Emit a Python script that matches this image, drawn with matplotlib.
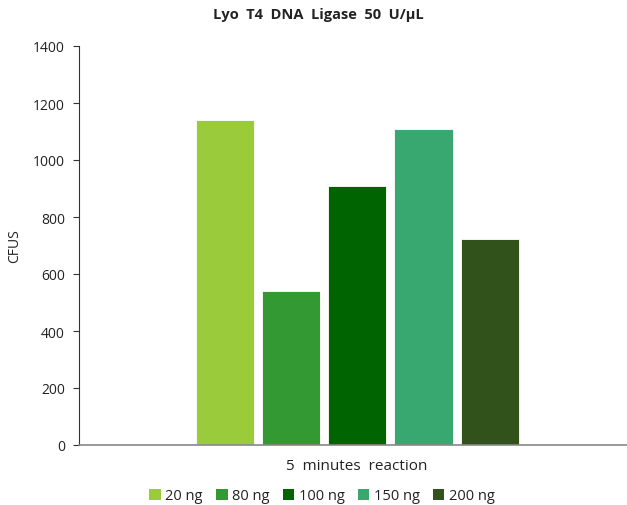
import matplotlib
matplotlib.use("Agg")
import matplotlib.pyplot as plt
from matplotlib.patches import Patch

plt.rcParams['font.family'] = ['Open Sans', 'DejaVu Sans']

title = "Lyo T4 DNA Ligase 50 U/\u00b5L"
category = "5 minutes reaction"
series = ["20 ng", "80 ng", "100 ng", "150 ng", "200 ng"]
values = [1140, 540, 910, 1110, 722]
colors = ["#9ACB3A", "#339933", "#006400", "#38A870", "#32521C"]
yticks = [0, 200, 400, 600, 800, 1000, 1200, 1400]

fig = plt.figure(figsize=(6.27, 5.06), dpi=100)
ax = fig.add_axes([79/627, 1-446/506, 1-79/627, (446-47)/506])

pos = list(range(len(series)))
ax.bar(pos, values, width=0.88, color=colors, edgecolor='white', linewidth=0.6)
ax.set_xlim(-2.2, 6.07)
ax.set_ylim(0, 1400)
ax.set_yticks(yticks)
ax.set_yticklabels([str(v) for v in yticks], fontsize=10, color='#222222')
ax.set_xticks([])
ax.tick_params(axis='y', direction='out', length=4, width=0.8, color='#333333', pad=6)
for s in ['top', 'right']:
    ax.spines[s].set_visible(False)
ax.spines['left'].set_color('#333333')
ax.spines['left'].set_linewidth(0.8)
ax.spines['bottom'].set_color('#888888')
ax.spines['bottom'].set_linewidth(1.2)
ax.set_ylabel("CFUS", fontsize=10, color='#222222', labelpad=8)

cat_text = category.replace(" ", "  ")
fig.text(357/627, 1-467/506, cat_text, ha='center', va='center', fontsize=11, color='#222222')
title_text = title.replace(" ", "  ")
fig.text(318/627, 1-15/506, title_text, ha='center', va='center', fontsize=10.5, fontweight='bold', color='#222222')

handles = [Patch(facecolor=c, edgecolor='none') for c in colors]
fig.legend(handles, series, loc='center', bbox_to_anchor=(322/627, 1-497/506), ncol=5,
           frameon=False, fontsize=10.5, handlelength=0.8, handleheight=0.8,
           handletextpad=0.3, columnspacing=0.9, labelcolor='#222222')

fig.savefig("out.png", dpi=100)
